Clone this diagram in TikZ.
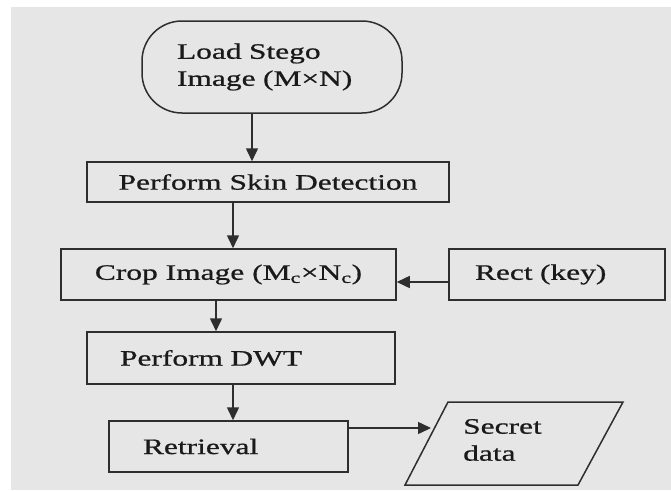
\documentclass[tikz,border=0pt]{standalone}
\usepackage{fontspec}
\setmainfont{Liberation Serif}[FakeStretch=1.43,FakeBold=0.8]
\usetikzlibrary{arrows.meta,calc}
\definecolor{bggray}{HTML}{E6E6E6}
\definecolor{linec}{HTML}{2E2E2E}
\definecolor{txtc}{HTML}{1A1A1A}
\begin{document}
\begin{tikzpicture}[x=1pt,y=-1pt,
  every node/.style={font=\fontsize{22}{27}\selectfont, text=txtc},
  box/.style={draw=linec, line width=1.5pt, rectangle, inner sep=0pt},
  term/.style={draw=linec, line width=1.5pt, rectangle, rounded corners=40pt, inner sep=0pt},
  arr/.style={draw=linec, line width=1.5pt, -{Triangle[length=13pt,width=12pt]}}]
\useasboundingbox (0,0) rectangle (671,490);
\fill[white] (0,0) rectangle (671,490);
\fill[bggray] (11,7) rectangle (671,490);
% nodes
\node[term, minimum width=260pt, minimum height=92pt, text width=190pt, align=left] (load) at (272,67) {Load Stego\\Image (M×N)};
\node[box, minimum width=362pt, minimum height=40pt] (skin) at (268,182) {Perform Skin Detection};
\node[box, minimum width=335pt, minimum height=51pt] (crop) at (228.5,274.5) {Crop Image (M\textsubscript{c}×N\textsubscript{c})};
\node[box, minimum width=216pt, minimum height=51pt, text width=164pt, align=left] (rect) at (557,274.5) {Rect (key)};
\node[box, minimum width=308pt, minimum height=52pt, text width=242pt, align=left] (dwt) at (241,358) {Perform DWT};
\node[box, minimum width=239pt, minimum height=51pt, text width=171pt, align=left] (retr) at (228.5,446.5) {Retrieval};
% parallelogram
\coordinate (p1) at (448,402);
\coordinate (p2) at (623,402);
\coordinate (p3) at (578,485);
\coordinate (p4) at (405,485);
\draw[linec, line width=1.5pt] (p1) -- (p2) -- (p3) -- (p4) -- cycle;
\node[anchor=west, align=left, inner sep=0pt] (secret) at (463,440) {Secret\\data};
% connectors
\coordinate (c1) at (252,0);
\coordinate (c2) at (233,0);
\coordinate (c3) at (216,0);
\coordinate (sin) at (431,428);
\draw[arr] (c1 |- load.south) -- (c1 |- skin.north);
\draw[arr] (c2 |- skin.south) -- (c2 |- crop.north);
\draw[arr] ([yshift=-7.5pt]rect.west) -- ([yshift=-7.5pt]crop.east);
\draw[arr] (c3 |- crop.south) -- (c3 |- dwt.north);
\draw[arr] (c2 |- dwt.south) -- (c2 |- retr.north);
\draw[arr] (retr.east |- sin) -- (sin);
\end{tikzpicture}
\end{document}
